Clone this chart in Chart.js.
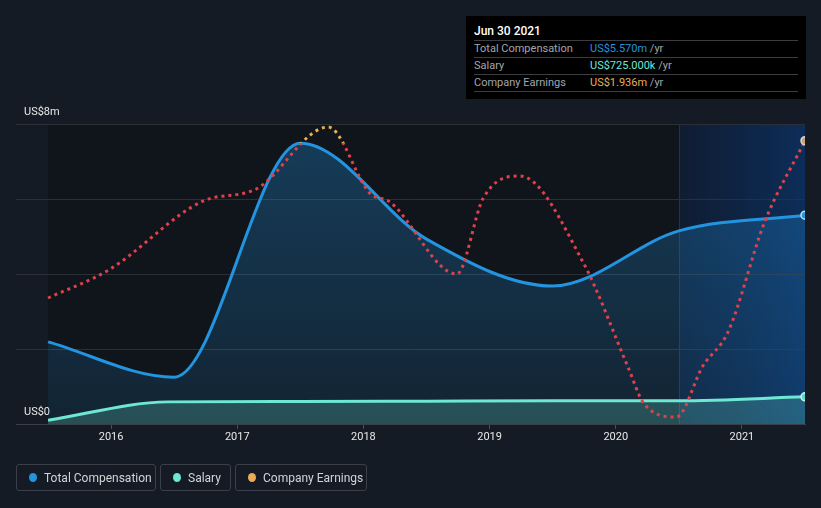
<!DOCTYPE html>
<html>
<head>
<meta charset="utf-8">
<script src="https://cdn.jsdelivr.net/npm/chart.js@4.4.0/dist/chart.umd.min.js"></script>
<style>
html,body{margin:0;padding:0;background:#151b24;width:821px;height:508px;overflow:hidden;font-family:Roboto,"Noto Sans",sans-serif;}
#wrap{position:relative;width:821px;height:508px;}
#c{position:absolute;left:0;top:0;}
.tip{position:absolute;left:466px;top:16px;width:340px;height:83px;background:#000;box-sizing:border-box;}
.tip .title{position:absolute;left:8px;top:15px;transform:translateY(-50%);color:#fff;font-size:12px;font-weight:500;}
.tip .sep{position:absolute;left:8px;width:324px;height:1px;background:#3b3d40;}
.tip .row{position:absolute;left:8px;font-size:11px;color:#a3a6ab;transform:translateY(-50%);white-space:nowrap;}
.tip .val{position:absolute;left:124px;font-size:11px;transform:translateY(-50%);white-space:nowrap;}
.tip .val span{color:#a3a6ab;}
.legend{position:absolute;top:464px;height:27px;border:1px solid #3a3f48;border-radius:3px;box-sizing:border-box;display:flex;align-items:center;color:#d2d4d8;font-size:12px;}
.legend i{display:inline-block;width:8px;height:9px;border-radius:50%;margin:0 7px 0 12px;}
</style>
</head>
<body>
<div id="wrap">
<canvas id="c" width="821" height="508"></canvas>
<div class="tip">
  <div class="title">Jun 30 2021</div>
  <div class="sep" style="top:24px"></div>
  <div class="row" style="top:32px">Total Compensation</div>
  <div class="val" style="top:32px;color:#2394df">US$5.570m <span>/yr</span></div>
  <div class="sep" style="top:41px"></div>
  <div class="row" style="top:49px">Salary</div>
  <div class="val" style="top:49px;color:#6ee7d3">US$725.000k <span>/yr</span></div>
  <div class="sep" style="top:58px"></div>
  <div class="row" style="top:66px">Company Earnings</div>
  <div class="val" style="top:66px;color:#e9ae55">US$1.936m <span>/yr</span></div>
  <div class="sep" style="top:75px"></div>
</div>
<div class="legend" style="left:16px;width:140px"><i style="background:#2394df"></i>Total Compensation</div>
<div class="legend" style="left:160px;width:71px"><i style="background:#6ee7d3"></i>Salary</div>
<div class="legend" style="left:235px;width:132px"><i style="background:#e9ae55"></i>Company Earnings</div>
</div>
<script>
// ---- data ----
const compYears = [2015.5, 2016.5, 2017.5, 2018.5, 2019.5, 2020.5, 2021.5];
const compValues = [2.19, 1.25, 7.49, 4.93, 3.68, 5.15, 5.57];
const salaryYears = [2015.5, 2016.45, 2017.5, 2018.5, 2019.5, 2020.5, 2021.5];
const salaryValues = [0.10, 0.59, 0.60, 0.61, 0.62, 0.62, 0.725];
const earnYears = [2015.5, 2015.98, 2016.73, 2017.15, 2017.72, 2018.05, 2018.21, 2018.74, 2018.95, 2019.24, 2019.74, 2020.10, 2020.22, 2020.48, 2020.69, 2020.89, 2021.18, 2021.5];
const earnValues = [0.861, 1.052, 1.524, 1.606, 2.029, 1.578, 1.517, 1.025, 1.544, 1.695, 1.107, 0.383, 0.143, 0.048, 0.396, 0.629, 1.380, 1.936];
const yearTicks = [2016, 2017, 2018, 2019, 2020, 2021];
const yTickLabels = {0: 'US$0', 8: 'US$8m'};
const earnHighlight = 1.92;
const highlightStart = 2020.5;

const toXY = (xs, ys) => xs.map((x, i) => ({x, y: ys[i]}));
const lastOnly = r => ctx => ctx.dataIndex === ctx.dataset.data.length - 1 ? r : 0;

const bgPlugin = {
  id: 'bg',
  beforeDraw(chart) {
    const {ctx, chartArea: a, scales: {x}} = chart;
    const x0 = x.getPixelForValue(compYears[0]);
    const xh = x.getPixelForValue(highlightStart);
    ctx.save();
    ctx.fillStyle = '#10141b';
    ctx.fillRect(x0, a.top, a.right - x0, a.bottom - a.top);
    const g = ctx.createLinearGradient(xh, 0, a.right, 0);
    g.addColorStop(0, 'rgba(14,40,80,0.45)');
    g.addColorStop(1, 'rgba(12,50,100,0.85)');
    ctx.fillStyle = g;
    ctx.fillRect(xh, a.top, a.right - xh, a.bottom - a.top);
    ctx.strokeStyle = 'rgba(60,90,130,0.35)';
    ctx.lineWidth = 1;
    ctx.beginPath();
    ctx.moveTo(Math.round(xh) + 0.5, a.top);
    ctx.lineTo(Math.round(xh) + 0.5, a.bottom);
    ctx.stroke();
    ctx.restore();
  }
};

const vGrad = (c0, c1) => ctx => {
  const {chart} = ctx; const a = chart.chartArea;
  if (!a) return c1;
  const g = chart.ctx.createLinearGradient(0, a.top, 0, a.bottom);
  g.addColorStop(0, c0); g.addColorStop(1, c1);
  return g;
};

new Chart(document.getElementById('c'), {
  type: 'line',
  data: {
    datasets: [
      {
        label: 'Company Earnings',
        data: toXY(earnYears, earnValues),
        yAxisID: 'y2',
        order: 0,
        fill: false,
        borderWidth: 3,
        borderDash: [3, 4],
        borderCapStyle: 'butt',
        cubicInterpolationMode: 'monotone',
        tension: 0.4,
        borderColor: ctx => {
          const {chart} = ctx; const a = chart.chartArea;
          if (!a) return '#e0404a';
          const yT = chart.scales.y2.getPixelForValue(earnHighlight);
          const s = Math.min(Math.max((yT - a.top) / (a.bottom - a.top), 0), 1);
          const g = chart.ctx.createLinearGradient(0, a.top, 0, a.bottom);
          g.addColorStop(0, '#e9ae55'); g.addColorStop(s, '#e9ae55');
          g.addColorStop(s, '#e0404a'); g.addColorStop(1, '#e0404a');
          return g;
        },
        pointRadius: lastOnly(4),
        pointHoverRadius: 0,
        pointBackgroundColor: '#c9a274',
        pointBorderColor: '#d8d8d8',
        pointBorderWidth: 1.5
      },
      {
        label: 'Salary',
        data: toXY(salaryYears, salaryValues),
        yAxisID: 'y',
        order: 1,
        fill: 'origin',
        backgroundColor: vGrad('rgba(110,231,211,0.30)', 'rgba(110,231,211,0.22)'),
        borderColor: '#6ee7d3',
        borderWidth: 3,
        cubicInterpolationMode: 'monotone',
        tension: 0.4,
        pointRadius: lastOnly(4),
        pointBackgroundColor: '#5fd6c9',
        pointBorderColor: '#cdeff0',
        pointBorderWidth: 1.5
      },
      {
        label: 'Total Compensation',
        data: toXY(compYears, compValues),
        yAxisID: 'y',
        order: 2,
        fill: 'origin',
        backgroundColor: vGrad('rgba(35,148,223,0.32)', 'rgba(35,148,223,0.12)'),
        borderColor: '#2394df',
        borderWidth: 3,
        cubicInterpolationMode: 'monotone',
        tension: 0.4,
        pointRadius: lastOnly(4),
        pointBackgroundColor: '#2394df',
        pointBorderColor: '#bfe0f7',
        pointBorderWidth: 1.5
      }
    ]
  },
  options: {
    responsive: false,
    animation: false,
    devicePixelRatio: 1,
    layout: {padding: {top: 124, right: 16, bottom: 44, left: 0}},
    plugins: {legend: {display: false}, tooltip: {enabled: false}},
    events: [],
    scales: {
      x: {
        type: 'linear',
        min: 2015.246,
        max: 2021.5,
        afterBuildTicks: s => { s.ticks = yearTicks.map(v => ({value: v})); },
        afterFit: s => { s.height = 40; },
        grid: {display: true, drawOnChartArea: false, drawTicks: true, tickLength: 5, color: '#4a4f57'},
        border: {display: true, color: '#3a3f47'},
        ticks: {color: '#e8e8e8', font: {family: 'Roboto', size: 11}, padding: 2, maxRotation: 0, callback: v => String(v)}
      },
      y: {
        min: 0,
        max: 8,
        afterFit: s => { s.width = 16; },
        grid: {color: '#2b3038', drawTicks: false},
        border: {display: false},
        ticks: {
          stepSize: 2,
          mirror: true,
          padding: 8,
          labelOffset: -12,
          color: '#e8e8e8',
          font: {family: 'Roboto', size: 11},
          callback: v => yTickLabels[v] || ''
        }
      },
      y2: {display: false, min: 0, max: 2.05}
    }
  },
  plugins: [bgPlugin]
});
</script>
</body>
</html>
